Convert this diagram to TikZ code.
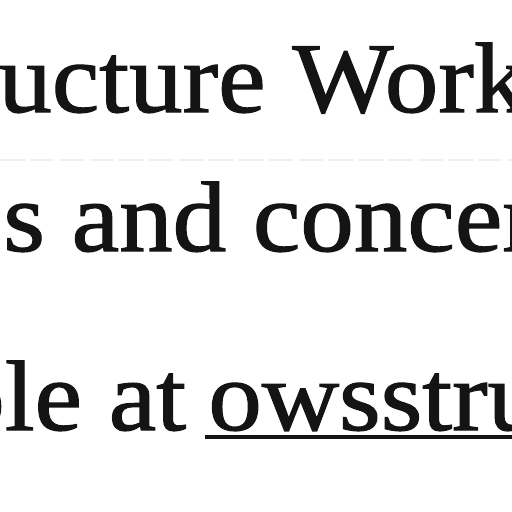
\documentclass[tikz,border=0pt]{standalone}
\usepackage{fontspec}
\setmainfont[FakeBold=1.2]{Liberation Serif}
\usetikzlibrary{positioning}
\newcommand{\scanfont}{\fontsize{56.9}{60}\selectfont}
\begin{document}
\begin{tikzpicture}[x = .02cm, y = .02cm, scanline/.style = {anchor = base west, inner sep = 0pt, text = black!92, font = \scanfont}]
    \useasboundingbox (0,0) rectangle (512,512);
    \clip (0,0) rectangle (512,512);
    \draw[red!10!gray!12, line width = 1pt, dash pattern = on 14pt off 3pt] (0,352) -- (512,352);
    \node[scanline] (title) at (-2,400) {\scalebox{1.07}[1]{ucture Work}};
    \node[scanline] (concern) at (3,261) {\scalebox{1.07}[1]{s and concer}};
    \node[scanline] (avail) at (-49,82) {\scalebox{1.07}[1]{ple at}};
    \node[scanline] (site) at (208,82) {\scalebox{1.07}[1]{owsstru}};
    \draw[black!92, line width = 2.3pt] ([xshift = -.06cm, yshift = -.14cm]site.base west) -- ([yshift = -.14cm]site.base east);
\end{tikzpicture}
\end{document}
